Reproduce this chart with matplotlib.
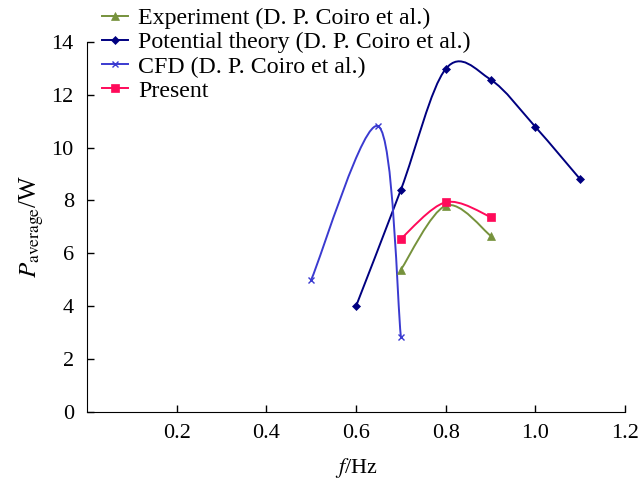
import numpy as np
import matplotlib
matplotlib.use("Agg")
import matplotlib.pyplot as plt
from matplotlib.path import Path
from matplotlib.patches import PathPatch

plt.rcParams['font.family'] = ['Liberation Serif', 'DejaVu Serif']
plt.rcParams['mathtext.fontset'] = 'stix'

# data
exp_f = [0.7, 0.8, 0.9]
exp_p = [5.38, 7.8, 6.67]
pot_f = [0.6, 0.7, 0.8, 0.9, 1.0, 1.1]
pot_p = [4.0, 8.4, 12.97, 12.57, 10.78, 8.8]
cfd_f = [0.5, 0.65, 0.7]
cfd_p = [5.0, 10.8, 2.85]
pre_f = [0.7, 0.8, 0.9]
pre_p = [6.55, 7.93, 7.38]

labels = ["Experiment (D. P. Coiro et al.)",
          "Potential theory (D. P. Coiro et al.)",
          "CFD (D. P. Coiro et al.)",
          "Present"]
xticks = [0.2, 0.4, 0.6, 0.8, 1.0, 1.2]
yticks = [0, 2, 4, 6, 8, 10, 12, 14]

fig = plt.figure(figsize=(6.4, 4.84), dpi=100)
ax = fig.add_axes([0.136, 0.1488, 0.8406, 0.765])
ax.set_xlim(0, 1.2)
ax.set_ylim(0, 14)


def smooth_path(ax, xs, ys):
    """excel-like smooth line: catmull-rom bezier done in pixel space"""
    tr = ax.transData
    P = tr.transform(np.column_stack([xs, ys]))
    n = len(P)
    verts = [P[0]]
    codes = [Path.MOVETO]
    for i in range(n - 1):
        p0 = P[i - 1] if i > 0 else P[i]
        p3 = P[i + 2] if i + 2 < n else P[i + 1]
        c1 = P[i] + (P[i + 1] - p0) / 6.0
        c2 = P[i + 1] - (p3 - P[i]) / 6.0
        verts += [c1, c2, P[i + 1]]
        codes += [Path.CURVE4] * 3
    verts = tr.inverted().transform(np.array(verts))
    return Path(verts, codes)


series = [(exp_f, exp_p, '#76923c', '^', 6),
          (pot_f, pot_p, '#000080', 'D', 4),
          (cfd_f, cfd_p, '#3a3ad0', 'x', 5),
          (pre_f, pre_p, '#ff0a5a', 's', 6)]

handles = []
for (xs, ys, col, mk, ms), lab in zip(series, labels):
    ax.add_patch(PathPatch(smooth_path(ax, xs, ys), facecolor='none',
                           edgecolor=col, lw=1.4, zorder=2))
    ax.plot(xs, ys, color=col, ls='none', marker=mk, ms=ms,
            mew=1 if mk == 'x' else 0.5, zorder=3)
    lh, = ax.plot([], [], color=col, lw=1.4, marker=mk, ms=ms,
                  mew=1 if mk == 'x' else 0.5)
    handles.append(lh)

ax.set_xticks(xticks)
ax.set_xticklabels(["%.1f" % t for t in xticks])
ax.set_yticks(yticks)
ax.tick_params(direction='in', length=5, width=1, labelsize=16)
ax.tick_params(axis='x', pad=9)
ax.tick_params(axis='y', pad=9.5)
ax.spines['top'].set_visible(False)
ax.spines['right'].set_visible(False)

ax.set_xlabel("$f$/Hz", fontsize=16, labelpad=9)
ax.set_ylabel(r"$P_{\mathrm{average}}$/W", fontsize=18, labelpad=4)

ax.legend(handles, labels, loc='upper left', bbox_to_anchor=(0.027, 1.092),
          frameon=False, fontsize=17.2, handlelength=1.1, handletextpad=0.42,
          labelspacing=0.1, borderaxespad=0, borderpad=0)

plt.savefig("out.png", dpi=100)
